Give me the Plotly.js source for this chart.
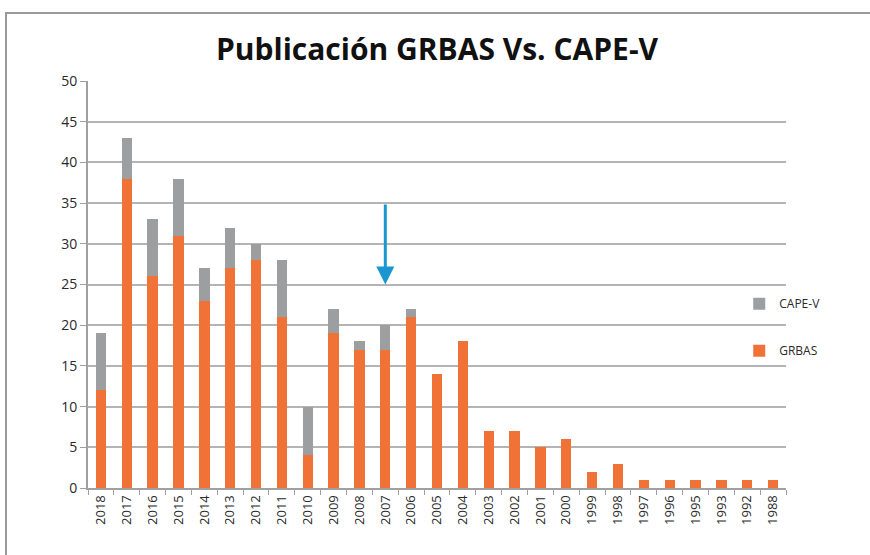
<!DOCTYPE html>
<html>
<head>
<meta charset="utf-8">
<script src="https://cdn.plot.ly/plotly-3.0.1.min.js"></script>
<style>
html,body{margin:0;padding:0;background:#fff;}
#wrap{position:relative;width:870px;height:555px;}
#frame{position:absolute;left:5px;top:12px;width:900px;height:600px;border:2px solid #9a9a9a;box-sizing:border-box;pointer-events:none;}
#chart{position:absolute;left:0;top:0;width:870px;height:555px;}
</style>
</head>
<body>
<div id="wrap">
<div id="chart"></div>
<div id="frame"></div>
</div>
<script>
const years = ['2018','2017','2016','2015','2014','2013','2012','2011','2010','2009','2008','2007','2006','2005','2004','2003','2002','2001','2000','1999','1998','1997','1996','1995','1993','1992','1988'];
const grbas = [12,38,26,31,23,27,28,21,4,19,17,17,21,14,18,7,7,5,6,2,3,1,1,1,1,1,1];
const capev = [7,5,7,7,4,5,2,7,6,3,1,3,1,0,0,0,0,0,0,0,0,0,0,0,0,0,0];
const arrowYear = '2007';
const arrowFrom = 35;
const arrowTo = 25;
const arrowIdx = years.indexOf(arrowYear);

const traces = [
  {type:'bar', name:'GRBAS', x:years, y:grbas, marker:{color:'#F07236'}, legendgroup:'g', legendrank:2},
  {type:'bar', name:'CAPE-V', x:years, y:capev, marker:{color:'#9C9EA0'}, legendgroup:'c', legendrank:1}
];

const layout = {
  width:870, height:555,
  margin:{l:88, r:84, t:81, b:67},
  paper_bgcolor:'#fff', plot_bgcolor:'#fff',
  barmode:'stack', bargap:0.6,
  font:{family:'"Open Sans", "DejaVu Sans", sans-serif', color:'#333', size:12},
  title:{text:'<b>Publicación GRBAS Vs. CAPE-V</b>', x:0.5, xref:'paper', y:0.91, yref:'container', yanchor:'middle',
         font:{family:'"Open Sans", sans-serif', size:30, color:'#111'}},
  xaxis:{type:'category', categoryorder:'array', categoryarray:years, range:[-0.5, years.length-0.5],
         tickangle:-90, tickfont:{size:13, color:'#2a2a2a'}, showgrid:false,
         showline:true, linecolor:'#a0a0a0', linewidth:2, ticks:'outside', tickson:'boundaries', ticklen:5, tickcolor:'#a0a0a0', automargin:false},
  yaxis:{range:[0,50], dtick:5, tickfont:{size:14, color:'#2a2a2a'}, showgrid:true, gridcolor:'#b4b4b4', gridwidth:2,
         showline:true, linecolor:'#a0a0a0', linewidth:2, ticks:'outside', ticklen:6, tickcolor:'#a0a0a0', zeroline:false, automargin:false},
  legend:{x:0.933, xanchor:'left', y:0.395, yanchor:'middle', bgcolor:'rgba(0,0,0,0)', traceorder:'grouped',
          tracegroupgap:28, font:{size:12, color:'#2a2a2a'}, itemwidth:30},
  annotations:[{x:arrowIdx, y:arrowTo, ax:arrowIdx, ay:arrowFrom, xref:'x', yref:'y', axref:'x', ayref:'y',
                showarrow:true, arrowhead:2, arrowsize:1.2, arrowwidth:3, arrowcolor:'#1A97D0', text:''}]
};

Plotly.newPlot('chart', traces, layout, {displayModeBar:false, staticPlot:true});
</script>
</body>
</html>
